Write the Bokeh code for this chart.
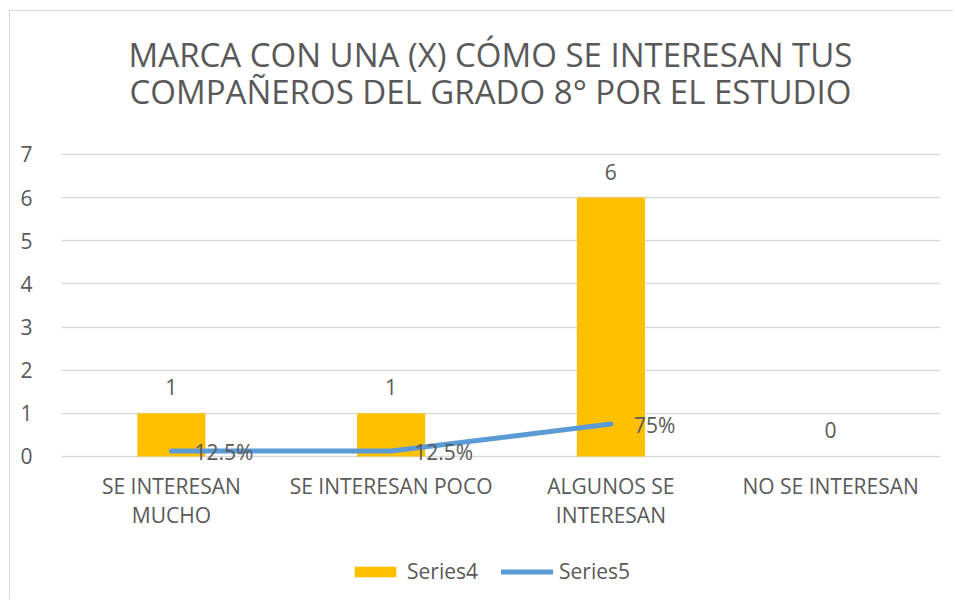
from bokeh.plotting import figure
from bokeh.models import (ColumnDataSource, LabelSet, Label, Legend,
                          LegendItem, FixedTicker, Range1d)
from bokeh.core.properties import value
from bokeh.embed import file_html
from bokeh.resources import INLINE

# ---- data ----
title_lines = ["MARCA CON UNA (X) CÓMO SE INTERESAN TUS",
               "COMPAÑEROS DEL GRADO 8° POR EL ESTUDIO"]
categories = ["SE INTERESAN\nMUCHO", "SE INTERESAN POCO",
              "ALGUNOS SE\nINTERESAN", "NO SE INTERESAN"]
series4 = [1, 1, 6, 0]
series5 = [0.125, 0.125, 0.75, None]
y_ticks = [0, 1, 2, 3, 4, 5, 6, 7]

TXT = "#595959"
FONT = "Open Sans"

xs = [i + 0.5 for i in range(len(categories))]
y_top = y_ticks[-1]

bar_src = ColumnDataSource(dict(x=xs, top=series4,
                                lab=[str(v) for v in series4]))
cat_lines = [c.split("\n") + [""] for c in categories]
cat_src = ColumnDataSource(dict(x=xs, y=[0] * len(xs),
                                l1=[c[0] for c in cat_lines],
                                l2=[c[1] for c in cat_lines]))
lx = [x for x, v in zip(xs, series5) if v is not None]
ly = [v for v in series5 if v is not None]
line_src = ColumnDataSource(dict(x=lx, y=ly,
                                 lab=[f"{v*100:g}%" for v in ly]))

# frame spans the whole chart area; value axis occupies 0..7 of it
p = figure(width=944, height=589, title=None,
           x_range=Range1d(0, len(categories)),
           y_range=Range1d(-3.34, 10.315),
           output_backend="svg", toolbar_location=None,
           min_border_left=51, min_border_right=14,
           min_border_top=0, min_border_bottom=0)
p.styles = {"margin-left": "9px", "margin-top": "10px",
            "border-left": "1px solid #D9D9D9",
            "border-top": "1px solid #D9D9D9"}
p.outline_line_color = None
p.background_fill_color = "white"
p.border_fill_color = "white"

bars = p.vbar(x="x", top="top", width=0.31, fill_color="#FFC000",
              line_color=None, source=bar_src)
ln = p.line(x="x", y="y", line_width=5, line_color="#5B9BD5",
            line_cap="round", line_join="round", source=line_src)

p.add_layout(LabelSet(x="x", y="top", text="lab", source=bar_src,
                      text_align="center", text_baseline="middle",
                      y_offset=26, text_font=value(FONT),
                      text_font_size=value("21px"), text_color=TXT))
p.add_layout(LabelSet(x="x", y="y", text="lab", source=line_src,
                      text_align="left", text_baseline="middle",
                      x_offset=23, y_offset=-1, text_font=value(FONT),
                      text_font_size=value("21px"), text_color=TXT))
for col, off in (("l1", -30), ("l2", -59)):
    p.add_layout(LabelSet(x="x", y="y", text=col, source=cat_src,
                          text_align="center", text_baseline="middle",
                          y_offset=off, text_font=value(FONT),
                          text_font_size=value("21px"), text_color=TXT))

# title (two centred lines above the plot area)
for txt, off in zip(title_lines, (100, 63)):
    p.add_layout(Label(x=len(categories) / 2, y=y_top, text=txt,
                       x_offset=-10.5, y_offset=off,
                       text_align="center", text_baseline="middle",
                       text_font=FONT, text_font_size="33px",
                       text_color=TXT))

# axes
p.xaxis.visible = False

p.yaxis.ticker = FixedTicker(ticks=y_ticks)
p.yaxis.major_label_text_font = FONT
p.yaxis.major_label_text_font_size = "21px"
p.yaxis.major_label_text_color = TXT
p.yaxis.major_label_standoff = 23
p.yaxis.axis_line_color = None
p.yaxis.major_tick_line_color = None
p.yaxis.minor_tick_line_color = None

p.xgrid.grid_line_color = None
p.ygrid.ticker = FixedTicker(ticks=y_ticks)
p.ygrid.grid_line_color = "#D9D9D9"
p.ygrid.grid_line_width = 1.5

legend = Legend(items=[LegendItem(label="Series4", renderers=[bars]),
                       LegendItem(label="Series5", renderers=[ln])],
                orientation="horizontal", location=(288, 15),
                glyph_width=52, glyph_height=13, label_standoff=6,
                spacing=23, padding=0, margin=0,
                border_line_color=None, background_fill_alpha=0,
                label_text_font=FONT, label_text_font_size="21px",
                label_text_color=TXT)
p.add_layout(legend)

open("out.html", "w").write(file_html(p, INLINE))
